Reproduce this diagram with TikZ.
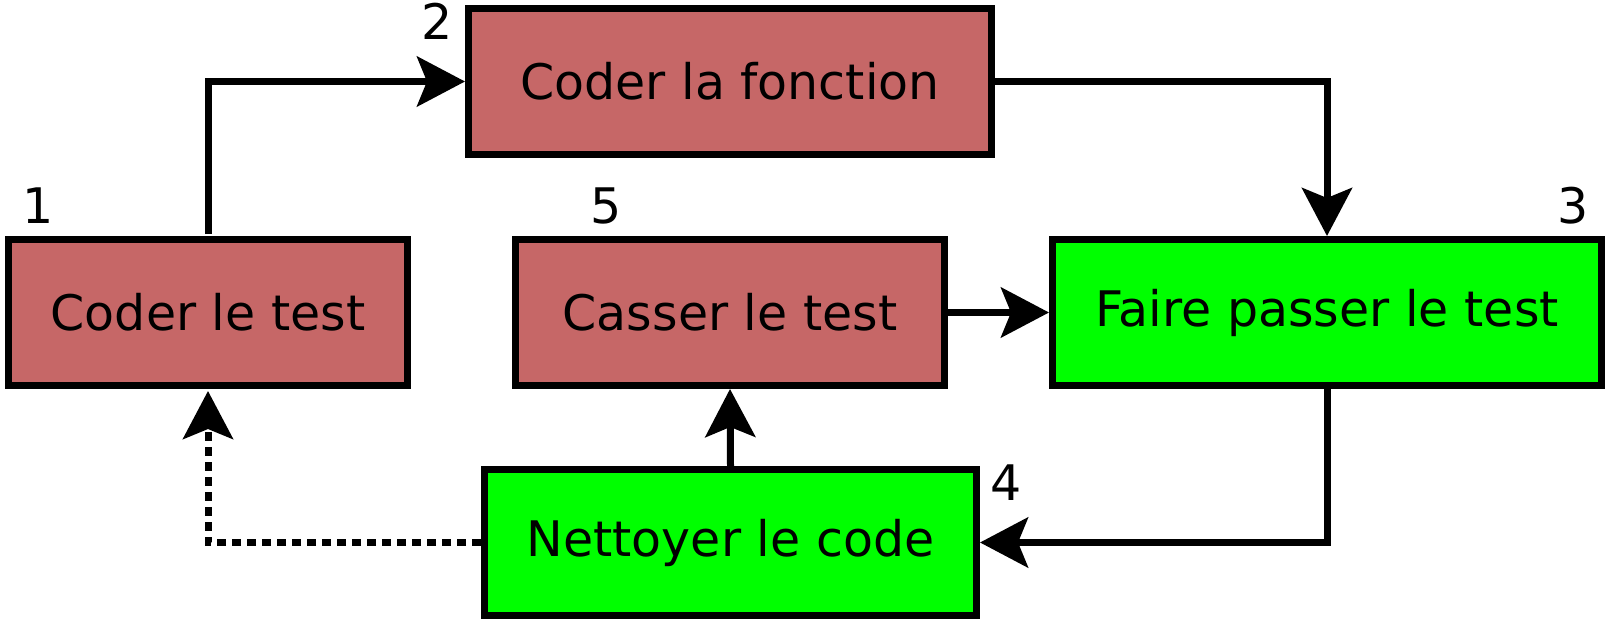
\documentclass[tikz,border=0pt]{standalone}
\usepackage{fontspec}
\setmainfont{DejaVu Sans}
\usetikzlibrary{arrows.meta}
\definecolor{boxred}{RGB}{198,103,103}
\definecolor{boxgreen}{RGB}{0,255,0}
\tikzset{
  box/.style={draw=black, line width=7pt, minimum height=146pt, inner sep=0pt,
    font=\fontsize{49}{59}\selectfont},
  redbox/.style={box, fill=boxred},
  greenbox/.style={box, fill=boxgreen},
  num/.style={font=\fontsize{49}{59}\selectfont, inner sep=0pt},
  conn/.style={line width=7pt, -{Stealth[length=48pt,width=50pt,inset=10pt]}},
  dotconn/.style={conn, dash pattern=on 9pt off 6pt},
}
\begin{document}
\begin{tikzpicture}[x=1pt,y=-1pt]
  \useasboundingbox (0,0) rectangle (1611,623);
  \node[redbox, minimum width=399pt] (b1) at (208,312.5) {Coder le test};
  \node[redbox, minimum width=523pt] (b2) at (730,81.5) {Coder la fonction};
  \node[redbox, minimum width=429pt] (b5) at (730,312.5) {Casser le test};
  \node[greenbox, minimum width=549pt] (b3) at (1327,312.5) {Faire passer le test};
  \node[greenbox, minimum width=492pt] (b4) at (730.5,542.5) {Nettoyer le code};

  \node[num] (n1) at (38,206) {1};
  \node[num] (n2) at (436.6,21.5) {2};
  \node[num] (n5) at (606,206) {5};
  \node[num] (n3) at (1573,206) {3};
  \node[num] (n4) at (1006,483) {4};

  \draw[conn, shorten <=2pt] (b1.north) |- (b2.west);
  \draw[conn] (b2.east) -| (b3.north);
  \draw[conn] (b5.east) -- (b3.west);
  \draw[conn] (b3.south) |- (b4.east);
  \draw[conn] (b4.north) -- (b5.south);
  \draw[dotconn, shorten >=2pt] (b4.west) -| (b1.south);
\end{tikzpicture}
\end{document}
